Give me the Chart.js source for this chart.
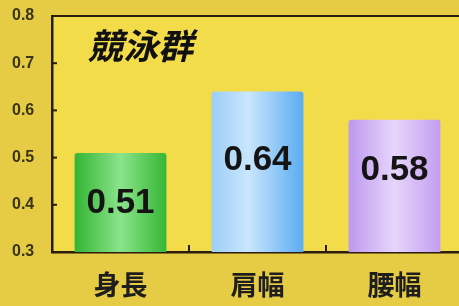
<!DOCTYPE html>
<html><head><meta charset="utf-8">
<script src="https://cdn.jsdelivr.net/npm/chart.js@4/dist/chart.umd.min.js"></script>
<style>
html,body{margin:0;padding:0;overflow:hidden;background:#e6cb44;}
#wrap{position:relative;width:464px;height:306px;}
</style></head>
<body><div id="wrap"><canvas id="c"></canvas></div>
<script>
const categories = ["身長", "肩幅", "腰幅"];
const values = [0.51, 0.64, 0.58];
const valueLabels = ["0.51", "0.64", "0.58"];
const yTicks = [0.3, 0.4, 0.5, 0.6, 0.7, 0.8];
const chartTitle = "競泳群";

const gradStops = [
  [[0, "#34b434"], [0.5, "#8ae48a"], [1, "#36b636"]],
  [[0, "#9ccef7"], [0.4, "#c9e6fc"], [1, "#5aacf2"]],
  [[0, "#be98ee"], [0.5, "#e6d6fb"], [1, "#c29ef0"]]
];
const labelOffsets = [50, 69, 51];
const axisColor = "#2a1c0e";

function barFill(ctx) {
  const chart = ctx.chart;
  const x = chart.scales.x;
  if (!chart.chartArea || !x) return gradStops[ctx.dataIndex][1][1];
  const cw = (x.right - x.left) / categories.length;
  const cx = x.getPixelForValue(ctx.dataIndex);
  const w = cw * 0.67;
  const g = chart.ctx.createLinearGradient(cx - w / 2, 0, cx + w / 2, 0);
  gradStops[ctx.dataIndex].forEach(s => g.addColorStop(s[0], s[1]));
  return g;
}

const deco = {
  id: "deco",
  beforeDraw(chart) {
    const c = chart.ctx, a = chart.chartArea;
    c.save();
    c.fillStyle = "#e6cb44";
    c.fillRect(0, 0, chart.width, chart.height);
    c.fillStyle = "#f2dc4a";
    c.fillRect(a.left, a.top, a.right - a.left, a.bottom - a.top);
    c.restore();
  },
  afterDatasetsDraw(chart) {
    const c = chart.ctx, a = chart.chartArea;
    const y = chart.scales.y, x = chart.scales.x;
    c.save();
    c.strokeStyle = axisColor;
    c.lineWidth = 2;
    c.beginPath(); c.moveTo(a.left - 1, a.top); c.lineTo(chart.width, a.top); c.stroke();
    yTicks.forEach(v => {
      const py = y.getPixelForValue(v);
      c.beginPath(); c.moveTo(a.left, py); c.lineTo(a.left + 5, py); c.stroke();
    });
    const cw = (x.right - x.left) / categories.length;
    for (let i = 0; i < categories.length - 1; i++) {
      const px = x.getPixelForValue(i) + cw / 2;
      c.beginPath(); c.moveTo(px, a.bottom); c.lineTo(px, a.bottom - 7); c.stroke();
    }
    const meta = chart.getDatasetMeta(0);
    c.fillStyle = "#141414";
    c.font = "bold 35px 'Liberation Sans', Arial, sans-serif";
    c.textAlign = "center";
    c.textBaseline = "middle";
    meta.data.forEach((bar, i) => {
      c.fillText(valueLabels[i], bar.x, bar.y + labelOffsets[i]);
    });
    c.fillStyle = "#111";
    c.font = "italic bold 35px 'Noto Sans CJK JP', sans-serif";
    c.textAlign = "left";
    c.fillText(chartTitle, a.left + 36, a.top + 30);
    c.restore();
  }
};

new Chart(document.getElementById("c"), {
  type: "bar",
  data: {
    labels: categories,
    datasets: [{
      data: values,
      backgroundColor: barFill,
      borderWidth: 0,
      borderRadius: { topLeft: 3, topRight: 3, bottomLeft: 0, bottomRight: 0 },
      borderSkipped: "bottom",
      barPercentage: 0.67,
      categoryPercentage: 1
    }]
  },
  options: {
    responsive: true,
    maintainAspectRatio: false,
    animation: false,
    events: [],
    layout: { padding: { top: 16, right: 1, left: 12, bottom: 0 } },
    plugins: { legend: { display: false }, tooltip: { enabled: false }, title: { display: false } },
    scales: {
      x: {
        grid: { display: false, drawTicks: false },
        border: { display: true, color: axisColor, width: 2.5 },
        ticks: {
          padding: 17,
          color: "#1e1e1e",
          font: { family: "'Noto Sans CJK JP', sans-serif", size: 27, weight: "bold" }
        },
        afterFit(s) { s.height = 54; }
      },
      y: {
        min: 0.3, max: 0.8,
        afterBuildTicks(s) { s.ticks = yTicks.map(v => ({ value: v })); },
        grid: { display: false, drawTicks: false },
        border: { display: true, color: axisColor, width: 2.5 },
        ticks: {
          padding: 2,
          crossAlign: "far",
          color: "#3a3418",
          font: { family: "'Liberation Sans', Arial, sans-serif", size: 16, weight: "bold" },
          callback: v => Number(v).toFixed(1)
        },
        afterFit(s) { s.width = 40; }
      }
    }
  },
  plugins: [deco]
});
</script></body></html>
